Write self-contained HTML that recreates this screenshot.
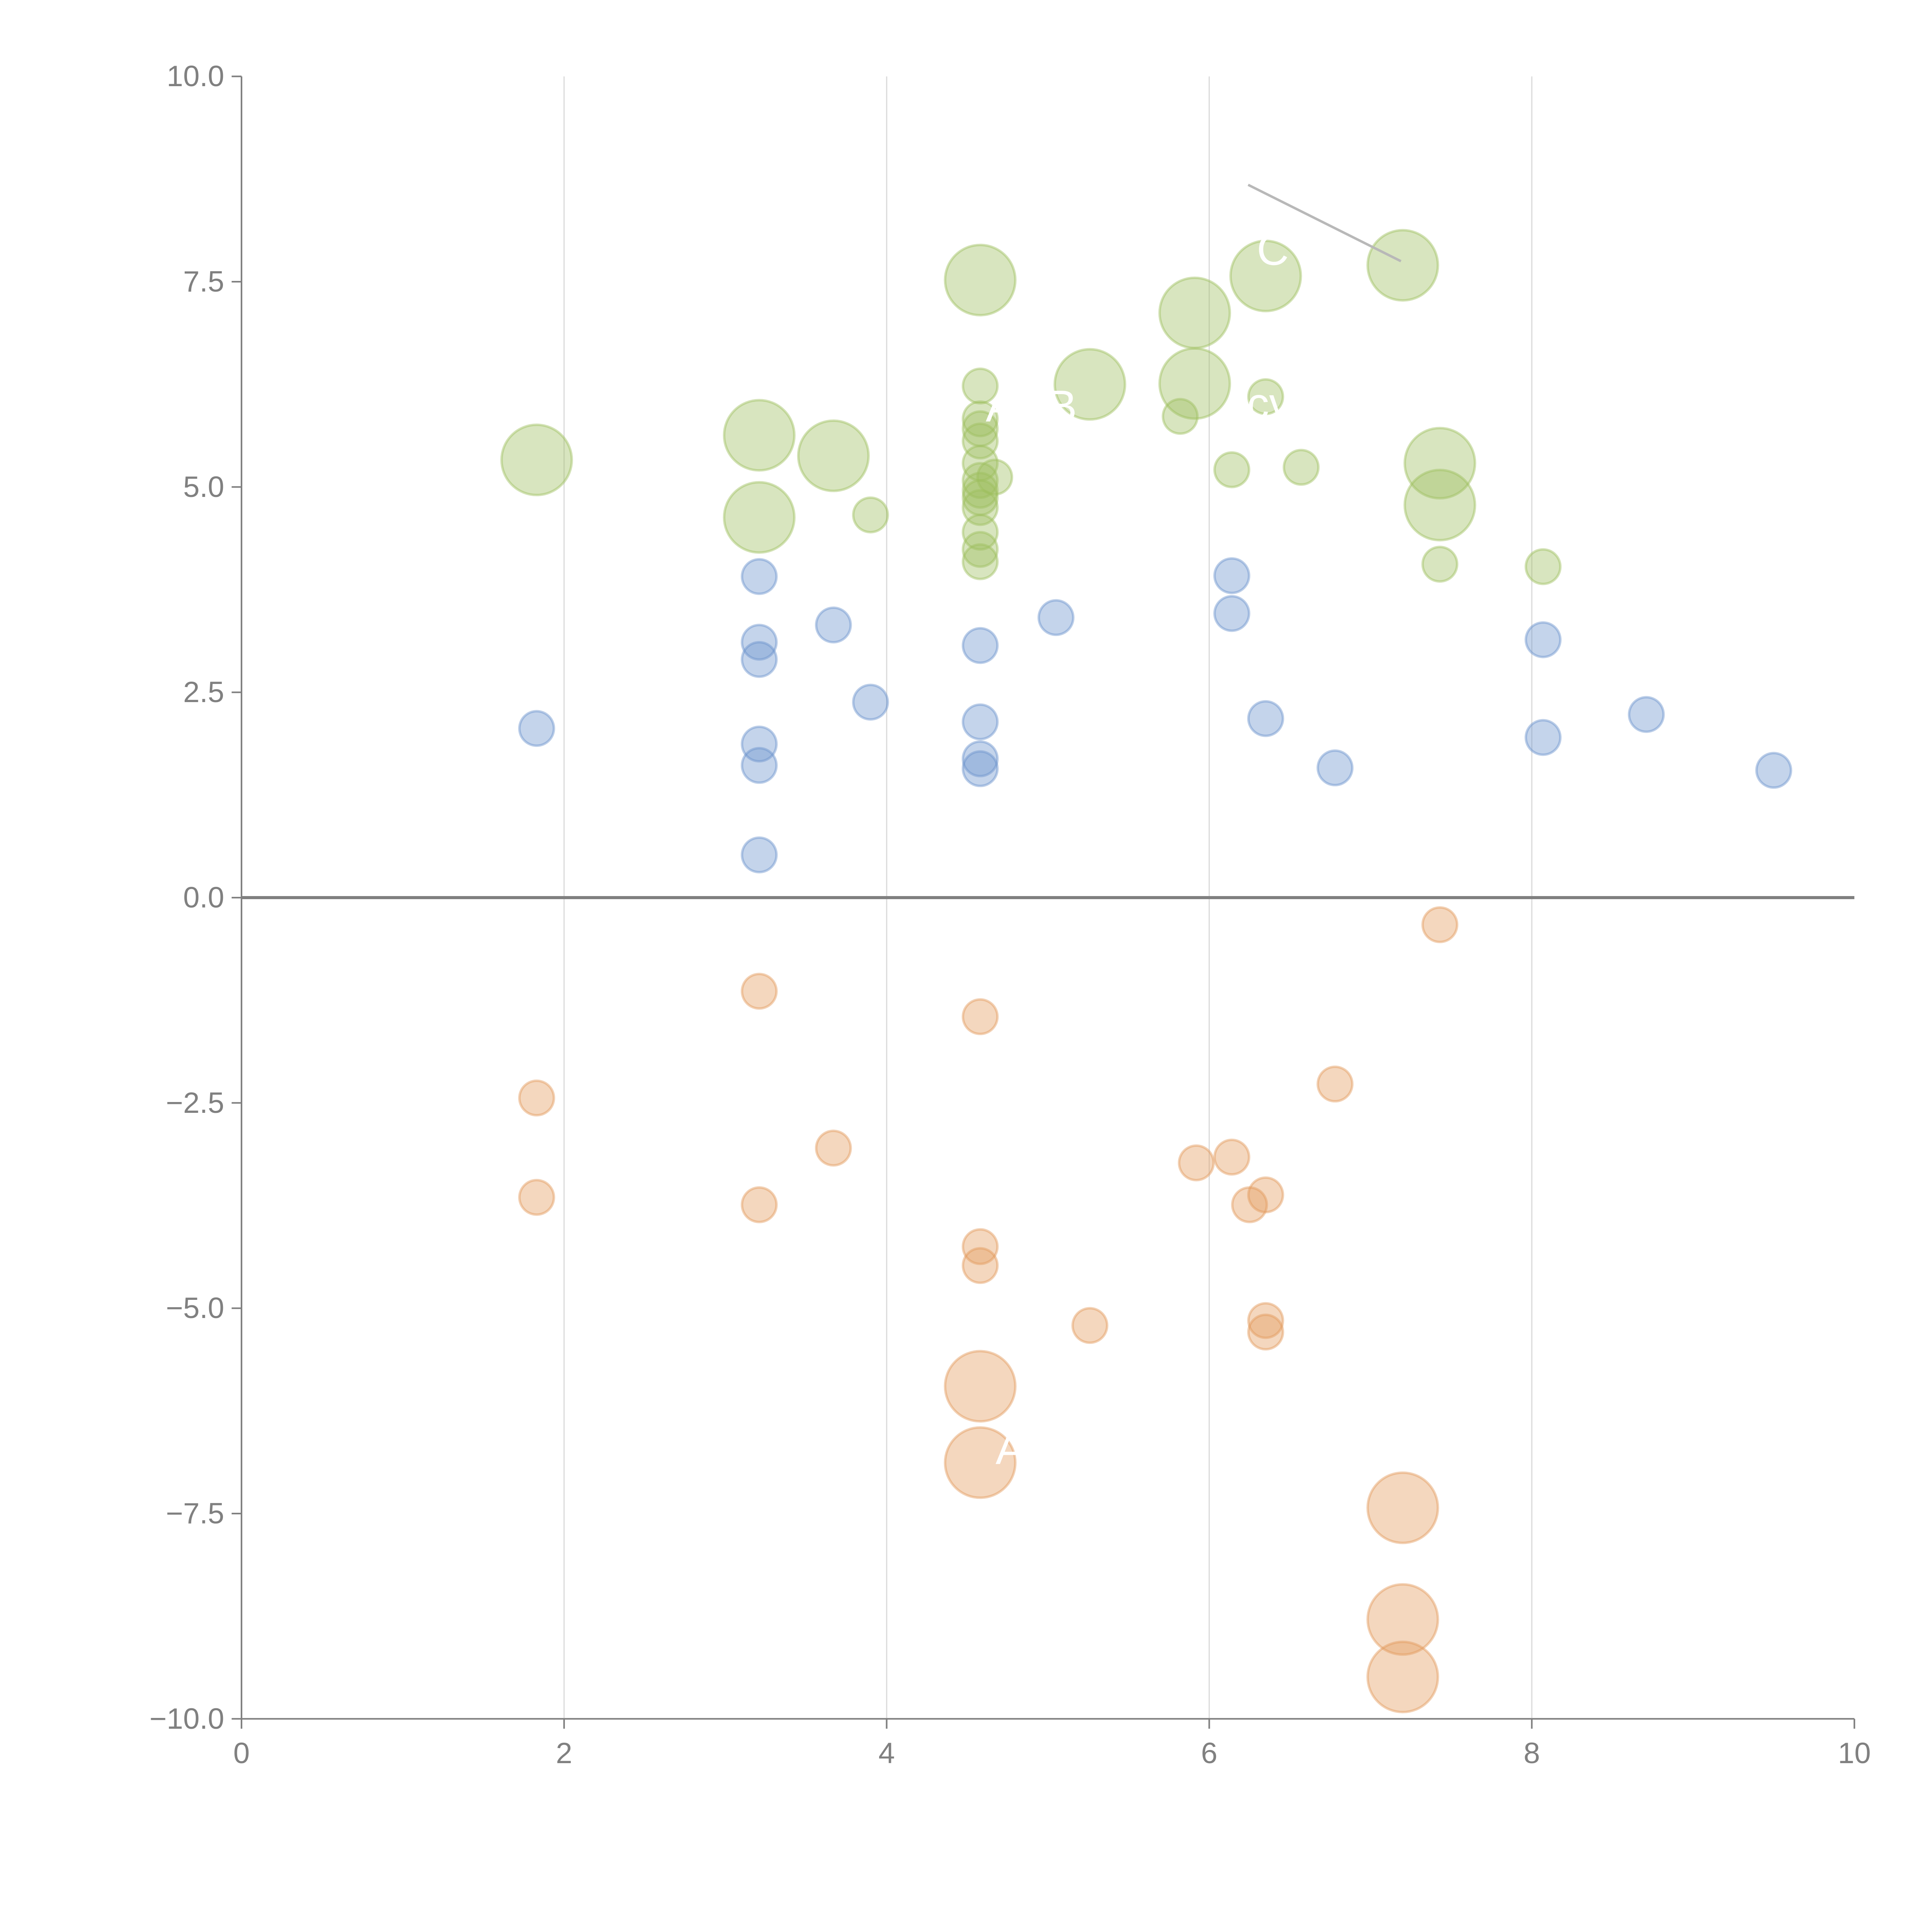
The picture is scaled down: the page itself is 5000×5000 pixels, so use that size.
<!DOCTYPE html>
<html><head><meta charset="utf-8"><style>
html,body{margin:0;padding:0;background:#fff;}
svg{display:block;}
text{font-family:"Liberation Sans",Arial,sans-serif;}
</style></head>
<body>
<svg id="chart" width="5000" height="5000" viewBox="0 0 1568 1568" xmlns="http://www.w3.org/2000/svg">
<g id="grid"></g>
<g id="axes"></g>
<g id="marks"></g>
<g id="labels"></g>
</svg>
<script>
const xTicks=[0,2,4,6,8,10];
const yTicks=[10,7.5,5,2.5,0,-2.5,-5,-7.5,-10];
const yTickLabels=["10.0","7.5","5.0","2.5","0.0","\u22122.5","\u22125.0","\u22127.5","\u221210.0"];
const greenX=[1.83,3.21,3.21,3.67,3.90,4.58,4.58,4.58,4.58,4.58,4.58,4.58,4.58,4.58,4.58,4.58,4.58,4.58,4.67,5.26,5.82,5.91,5.91,6.14,6.35,6.35,6.57,7.20,7.43,7.43,7.43,8.07];
const greenY=[5.33,5.63,4.63,5.38,4.66,7.52,6.23,5.83,5.71,5.56,5.29,5.08,4.96,4.87,4.75,4.45,4.24,4.09,5.12,6.25,5.86,7.12,6.26,5.21,7.57,6.10,5.24,7.70,5.29,4.78,4.06,4.03];
const greenS=[2,2,2,2,1,2,1,1,1,1,1,1,1,1,1,1,1,1,1,2,1,2,2,1,2,1,1,2,2,2,1,1];
const blueX=[1.83,3.21,3.21,3.21,3.21,3.21,3.21,3.67,3.90,4.58,4.58,4.58,4.58,5.05,6.14,6.14,6.35,6.78,8.07,8.07,8.71,9.50];
const blueY=[2.06,3.91,3.11,2.90,1.87,1.61,0.52,3.32,2.38,3.07,2.14,1.69,1.57,3.41,3.92,3.46,2.18,1.58,3.14,1.95,2.23,1.55];
const orangeX=[7.43,3.21,4.58,1.83,6.78,3.67,5.92,6.14,6.25,6.35,1.83,3.21,4.58,4.58,5.26,6.35,6.35,4.58,4.58,7.20,7.20,7.20];
const orangeY=[-0.33,-1.14,-1.45,-2.44,-2.27,-3.05,-3.23,-3.16,-3.74,-3.62,-3.65,-3.74,-4.25,-4.48,-5.21,-5.15,-5.29,-5.95,-6.88,-7.43,-8.79,-9.49];
const orangeS=[1,1,1,1,1,1,1,1,1,1,1,1,1,1,1,1,1,2,2,2,2,2];

const NS="http://www.w3.org/2000/svg";
const X0=196,X1=1505,Y0=1395,Y1=62;
function sx(v){return X0+(v-0)/(10-0)*(X1-X0);}
function sy(v){return Y0-(v+10)/20*(Y0-Y1);}
function mk(tag,attrs,parent){const e=document.createElementNS(NS,tag);for(const k in attrs)e.setAttribute(k,attrs[k]);parent.appendChild(e);return e;}
const grid=document.getElementById('grid'),axes=document.getElementById('axes'),marks=document.getElementById('marks'),labels=document.getElementById('labels');

xTicks.forEach(t=>{
  if(t>0&&t<10){const g=mk('line',{x1:sx(t),x2:sx(t),y1:Y1,y2:Y0,stroke:'#dcdcdc','stroke-width':1},grid);
  
  }
  const tk=mk('line',{x1:sx(t),x2:sx(t),y1:Y0,y2:Y0+8,stroke:'#808080','stroke-width':1.3},axes);
  
  
  const tl=mk('text',{x:sx(t),y:Y0+36,'text-anchor':'middle','font-size':24,fill:'#808080'},axes);
  tl.textContent=String(t);
  
  
});
yTicks.forEach((t,i)=>{
  const tk=mk('line',{x1:X0-8,x2:X0,y1:sy(t),y2:sy(t),stroke:'#808080','stroke-width':1.3},axes);
  
  
  const tl=mk('text',{x:X0-14,y:sy(t)+8,'text-anchor':'end','font-size':24,fill:'#808080'},axes);
  tl.textContent=yTickLabels[i];
  
  
});
const ya=mk('line',{x1:X0,x2:X0,y1:Y1,y2:Y0,stroke:'#808080','stroke-width':1.3},axes);


const xa=mk('line',{x1:X0,x2:X1,y1:Y0,y2:Y0,stroke:'#808080','stroke-width':1.3},axes);


const zl=mk('line',{x1:X0,x2:X1,y1:sy(0),y2:sy(0),stroke:'#808080','stroke-width':2.5},axes);



function draw(xs,ys,ss,color,name){
  xs.forEach((x,i)=>{
    const r=(ss&&ss[i]===2)?28.5:14;
    const c=mk('circle',{cx:sx(x),cy:sy(ys[i]),r:r,fill:color,'fill-opacity':0.4,stroke:color,'stroke-opacity':0.45,'stroke-width':2},marks);
    
    
  });
}
draw(greenX,greenY,greenS,'#9dbf5e','bubble-green');
draw(blueX,blueY,null,'#6b93cc','bubble-blue');
draw(orangeX,orangeY,orangeS,'#e39a5c','bubble-orange');

const an=mk('line',{x1:1013,y1:150,x2:1137,y2:212,stroke:'#b8b8b8','stroke-width':2},labels);


[["ADB",800,342],["CV",1020,215],["cv",1012,340],["A",808,1188]].forEach(([t,x,y])=>{
  const e=mk('text',{x:x,y:y,'font-size':36,fill:'#ffffff'},labels);
  e.textContent=t;
  
  
});
</script>
</body></html>
